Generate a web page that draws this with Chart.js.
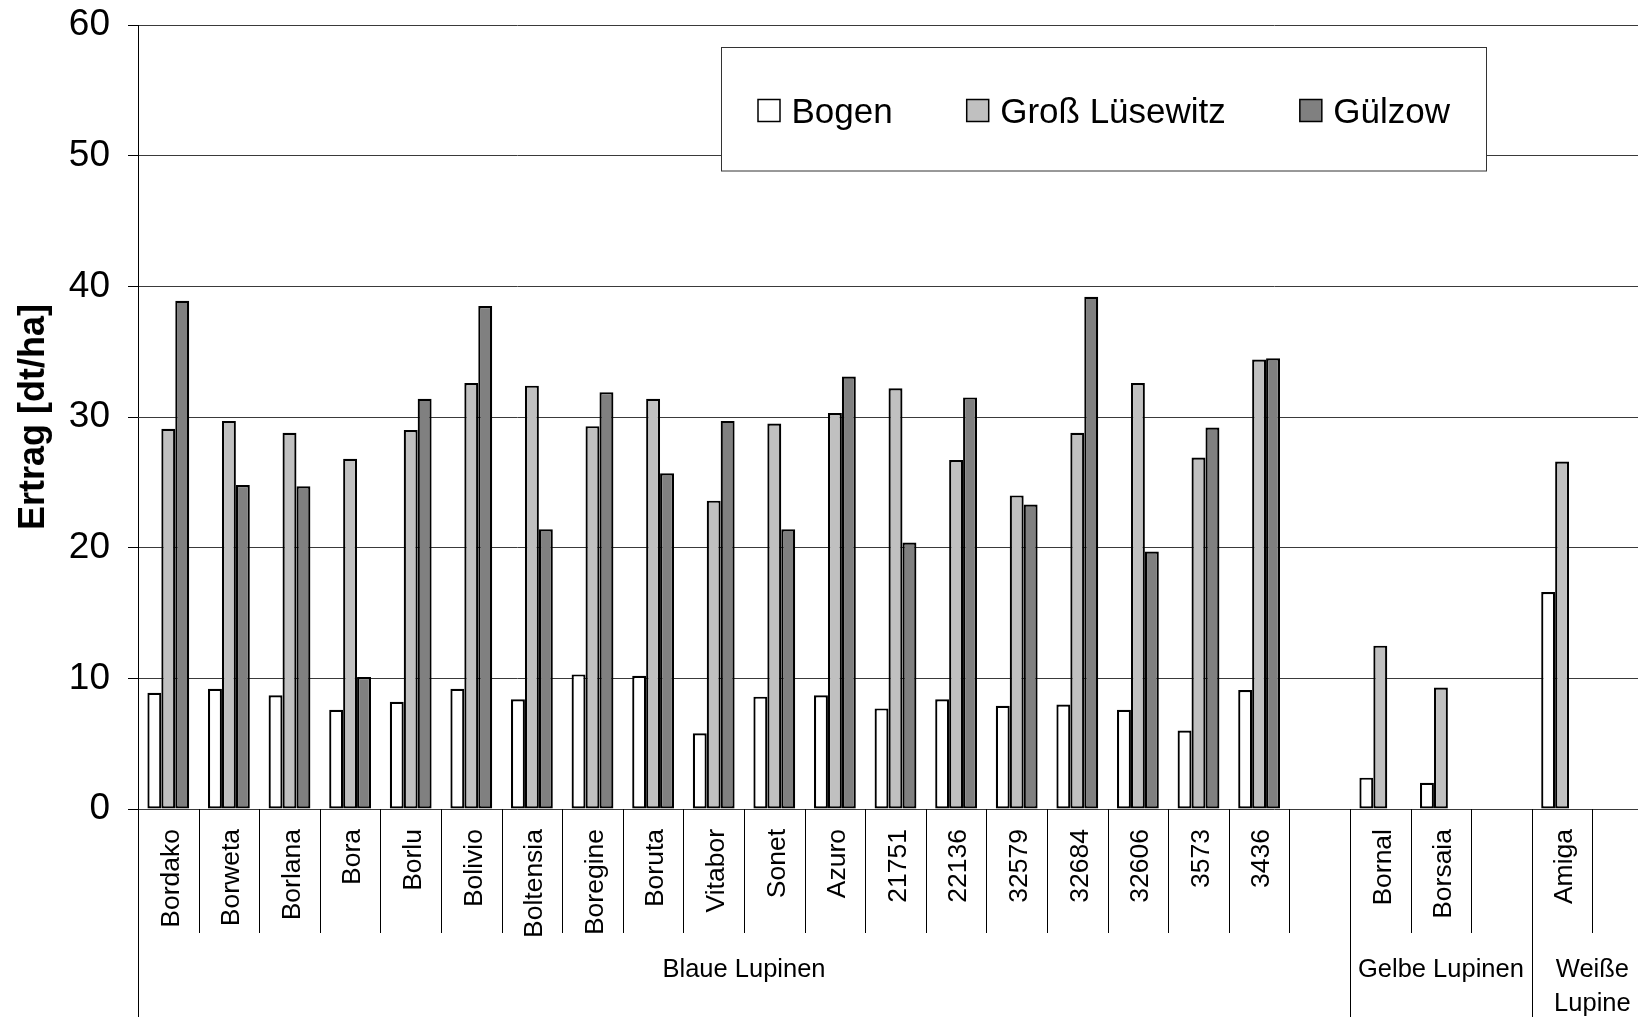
<!DOCTYPE html>
<html>
<head>
<meta charset="utf-8">
<script src="https://cdn.jsdelivr.net/npm/chart.js@4/dist/chart.umd.min.js"></script>
<style>
  html, body { margin: 0; padding: 0; background: #fff; overflow: hidden; }
  #wrap { width: 1653px; height: 1017px; }
</style>
</head>
<body>
<div id="wrap"><canvas id="c" width="1653" height="1017"></canvas></div>
<script>
// ---- data ----
const categories = ['Bordako','Borweta','Borlana','Bora','Borlu','Bolivio','Boltensia','Boregine','Boruta','Vitabor','Sonet','Azuro','21751','22136','32579','32684','32606','3573','3436','','Bornal','Borsaia','','Amiga',''];
const seriesNames = ['Bogen', 'Groß Lüsewitz', 'Gülzow'];
const bogen   = [8.9, 9.2, 8.7, 7.6, 8.2, 9.2, 8.4, 10.3, 10.2, 5.8, 8.6, 8.7, 7.7, 8.4, 7.9, 8.0, 7.6, 6.0, 9.1, null, 2.4, 2.0, null, 16.6, null];
const gross   = [29.1, 29.7, 28.8, 26.8, 29.0, 32.6, 32.4, 29.3, 31.4, 23.6, 29.5, 30.3, 32.2, 26.7, 24.0, 28.8, 32.6, 26.9, 34.4, null, 12.5, 9.3, null, 26.6, null];
const guelzow = [38.9, 24.8, 24.7, 10.1, 31.4, 38.5, 21.4, 31.9, 25.7, 29.7, 21.4, 33.1, 20.4, 31.5, 23.3, 39.2, 19.7, 29.2, 34.5, null, null, null, null, null, null];
const groupLabels = [['Blaue Lupinen'], ['Gelbe Lupinen'], ['Weiße', 'Lupine']];
const groupSizes = [20, 3, 2];
const yTicks = [0, 10, 20, 30, 40, 50, 60];
const yTitle = 'Ertrag [dt/ha]';

const FONT = 'Arial, "Liberation Sans", sans-serif';
const colors = ['#FFFFFF', '#C0C0C0', '#808080'];

const groupAxisPlugin = {
  id: 'groupAxis',
  afterDraw(chart) {
    const ctx = chart.ctx;
    const xs = chart.scales.x;
    const area = chart.chartArea;
    const H = chart.height;
    const shortEnd = area.bottom + 124;
    const groupBounds = [0];
    let acc = 0;
    groupSizes.forEach(s => { acc += s; groupBounds.push(acc); });
    ctx.save();
    ctx.strokeStyle = '#000';
    ctx.lineWidth = 1;
    for (let i = 0; i <= categories.length; i++) {
      const x = Math.round(xs.getPixelForValue(i - 0.5)) + 0.5;
      const isGroup = groupBounds.includes(i);
      ctx.beginPath();
      ctx.moveTo(x, area.bottom);
      ctx.lineTo(x, isGroup ? H : shortEnd);
      ctx.stroke();
    }
    ctx.fillStyle = '#000';
    ctx.font = '25.5px ' + FONT;
    ctx.textAlign = 'center';
    ctx.textBaseline = 'alphabetic';
    let start = 0;
    groupSizes.forEach((s, gi) => {
      const x0 = xs.getPixelForValue(start - 0.5);
      const x1 = xs.getPixelForValue(start + s - 0.5);
      const cx = (x0 + x1) / 2;
      groupLabels[gi].forEach((line, li) => {
        ctx.fillText(line, cx, area.bottom + 167.5 + li * 34);
      });
      start += s;
    });
    ctx.restore();
  }
};

const boxLegendPlugin = {
  id: 'boxLegend',
  afterDraw(chart) {
    const ctx = chart.ctx;
    ctx.save();
    const bx = 721.5, by = 47.5, bw = 765, bh = 123.5;
    ctx.fillStyle = '#fff';
    ctx.fillRect(bx, by, bw, bh);
    ctx.strokeStyle = '#333';
    ctx.lineWidth = 1;
    ctx.strokeRect(bx, by, bw, bh);
    ctx.font = '35px ' + FONT;
    ctx.textBaseline = 'alphabetic';
    ctx.textAlign = 'left';
    let x = 758;
    chart.data.datasets.forEach((ds) => {
      ctx.fillStyle = ds.backgroundColor;
      ctx.fillRect(x, 99.5, 22, 22);
      ctx.strokeStyle = '#000';
      ctx.lineWidth = 1.5;
      ctx.strokeRect(x, 99.5, 22, 22);
      ctx.fillStyle = '#000';
      ctx.fillText(ds.label, x + 33.5, 122.5);
      x += 33.5 + ctx.measureText(ds.label).width + 74;
    });
    ctx.restore();
  }
};

new Chart(document.getElementById('c'), {
  type: 'bar',
  data: {
    labels: categories,
    datasets: [
      { label: seriesNames[0], data: bogen,   backgroundColor: colors[0], borderColor: '#000', borderWidth: 2.2, borderSkipped: false },
      { label: seriesNames[1], data: gross,   backgroundColor: colors[1], borderColor: '#000', borderWidth: 2.2, borderSkipped: false },
      { label: seriesNames[2], data: guelzow, backgroundColor: colors[2], borderColor: '#000', borderWidth: 2.2, borderSkipped: false }
    ]
  },
  options: {
    responsive: false,
    animation: false,
    devicePixelRatio: 1,
    layout: { padding: { top: 25, left: 0, right: 0, bottom: 0 } },
    datasets: { bar: { categoryPercentage: 0.69, barPercentage: 1.0 } },
    plugins: {
      legend: { display: false },
      tooltip: { enabled: false }
    },
    scales: {
      x: {
        grid: { display: false },
        border: { display: false },
        ticks: {
          autoSkip: false,
          minRotation: 90,
          maxRotation: 90,
          padding: 12,
          labelOffset: 3,
          color: '#000',
          font: { family: FONT, size: 26.5 }
        },
        afterFit(scale) { scale.height = 208; scale.paddingLeft = 0; scale.paddingRight = 0; }
      },
      y: {
        min: 0,
        max: 60,
        afterBuildTicks(scale) { scale.ticks = yTicks.map(v => ({ value: v })); },
        grid: { color: '#3a3a3a', lineWidth: 1, tickLength: 10, tickColor: '#000', drawTicks: true },
        border: { display: true, color: '#000', width: 1 },
        ticks: {
          padding: 18,
          color: '#000',
          font: { family: FONT, size: 37 }
        },
        title: {
          display: true,
          text: yTitle,
          color: '#000',
          font: { family: FONT, size: 36, weight: 'bold' },
          padding: { top: 12, bottom: 0 }
        },
        afterFit(scale) { scale.width = 138; scale.paddingTop = 0; scale.paddingBottom = 0; }
      }
    }
  },
  plugins: [groupAxisPlugin, boxLegendPlugin]
});
</script>
</body>
</html>
